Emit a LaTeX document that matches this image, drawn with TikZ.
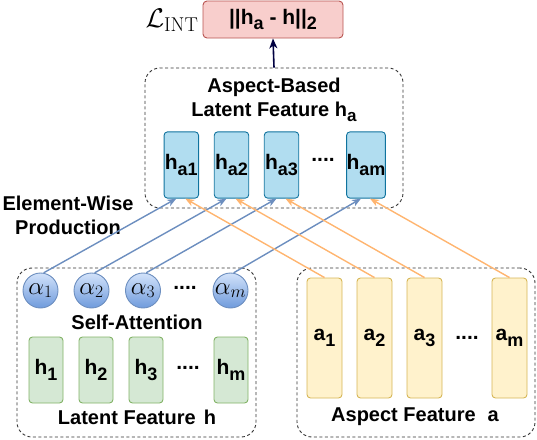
\RequirePackage{fix-cm}
\documentclass[tikz,border=0pt]{standalone}
\usepackage[no-math]{fontspec}
\setmainfont{Liberation Sans}
\usetikzlibrary{arrows.meta}
\newcommand{\subtxt}[2]{#1\raisebox{-5pt}{\fontsize{17}{17}\selectfont #2}}
\newcommand{\boxtxt}[2]{#1\raisebox{-5.5pt}{\fontsize{18}{18}\selectfont #2}}
\definecolor{grpc}{HTML}{333333}
\definecolor{hafill}{HTML}{B1DDF0}
\definecolor{hadraw}{HTML}{10739E}
\definecolor{hfill}{HTML}{D5E8D4}
\definecolor{hdraw}{HTML}{82B366}
\definecolor{afill}{HTML}{FFF2CC}
\definecolor{adraw}{HTML}{D6B656}
\definecolor{lfill}{HTML}{F8CECC}
\definecolor{ldraw}{HTML}{B85450}
\definecolor{ctop}{HTML}{D2E2FA}
\definecolor{cbot}{HTML}{6F9BDC}
\definecolor{cdraw}{HTML}{6C8EBF}
\definecolor{barr}{HTML}{6C8EBF}
\definecolor{oarr}{HTML}{FFB570}
\definecolor{navy}{HTML}{000040}
\begin{document}
\begin{tikzpicture}[x=1pt,y=-1pt,
  font=\bfseries\fontsize{20}{24}\selectfont,
  grp/.style={draw=grpc, line width=0.9pt, dash pattern=on 3pt off 2.5pt, rounded corners=15pt, inner sep=0pt},
  habox/.style={draw=hadraw, fill=hafill, line width=0.9pt, rounded corners=3.5pt, minimum width=34.5pt, minimum height=66.3pt, inner sep=0pt, font=\bfseries\fontsize{21}{21}\selectfont},
  hbox/.style={draw=hdraw, fill=hfill, line width=0.9pt, rounded corners=3.5pt, minimum width=34pt, minimum height=66pt, inner sep=0pt, font=\bfseries\fontsize{21}{21}\selectfont},
  abox/.style={draw=adraw, fill=afill, line width=0.9pt, rounded corners=3.5pt, minimum width=35pt, minimum height=120pt, inner sep=0pt, font=\bfseries\fontsize{21}{21}\selectfont},
  lossbox/.style={draw=ldraw, fill=lfill, line width=0.9pt, rounded corners=4pt, minimum width=140pt, minimum height=37pt, inner sep=0pt, font=\bfseries\fontsize{21}{21}\selectfont},
  alphanode/.style={circle, draw=cdraw, line width=0.9pt, top color=ctop, bottom color=cbot, minimum size=35pt, inner sep=0pt, font=\fontsize{25}{25}\selectfont},
  dots/.style={inner sep=0pt, font=\bfseries\fontsize{21}{21}\selectfont},
  lbl/.style={inner sep=0pt, align=center},
  bluearr/.style={draw=barr, line width=1.4pt, -{Stealth[length=9pt,width=7pt,inset=2.5pt]}},
  orangearr/.style={draw=oarr, line width=1.4pt, -{Stealth[length=9pt,width=7pt,inset=2.5pt]}},
  navyarr/.style={draw=navy, line width=1.6pt, -{Stealth[length=10pt,width=8pt,inset=3pt]}}
]
\useasboundingbox (0,0) rectangle (537,439);

% groups
\node[grp, minimum width=258pt, minimum height=140pt] (gtop) at (274,138) {};
\node[grp, minimum width=239pt, minimum height=169pt] (gleft) at (136.5,352.5) {};
\node[grp, minimum width=238pt, minimum height=169pt] (gright) at (416,352.5) {};

% loss
\node[lossbox] (loss) at (273,19.5) {||\boxtxt{h}{a} - h||\raisebox{-5.5pt}{\fontsize{18}{18}\selectfont 2}};
\node[lbl, anchor=base] (lint) at (172,27) {\fontsize{27}{27}\selectfont$\mathcal{L}_{\mbox{\fontsize{20}{20}\fontfamily{lmr}\mdseries\selectfont INT}}$};

% top group contents
\node[lbl] (ttl) at (274,100) {Aspect-Based\\Latent Feature \subtxt{h}{a}};
\node[habox] (ha1) at (181.3,165) {\boxtxt{h}{a1}};
\node[habox] (ha2) at (231.5,165) {\boxtxt{h}{a2}};
\node[habox] (ha3) at (281.5,165) {\boxtxt{h}{a3}};
\node[dots] (hadots) at (323,160) {....};
\node[habox] (ham) at (366,165) {\boxtxt{h}{am}};

% element-wise
\node[lbl] (ew) at (68,215) {Element-Wise\\Production};

% left group contents
\node[alphanode] (al1) at (40.5,290.5) {$\alpha_1$};
\node[alphanode] (al2) at (91.5,290.5) {$\alpha_2$};
\node[alphanode] (al3) at (143,290.5) {$\alpha_3$};
\node[dots] (aldots) at (185,288) {....};
\node[alphanode] (alm) at (230.5,290.5) {$\alpha_m$};
\node[lbl] (sa) at (137,322) {Self-Attention};
\node[hbox] (h1) at (46,370) {\boxtxt{h}{1}};
\node[hbox] (h2) at (96,370) {\boxtxt{h}{2}};
\node[hbox] (h3) at (146,370) {\boxtxt{h}{3}};
\node[dots] (hdots) at (188,368) {....};
\node[hbox] (hm) at (231,370) {\boxtxt{h}{m}};
\node[lbl] (lf) at (137,417) {Latent Feature\hspace{0.4em}h};

% right group contents
\node[abox] (a1) at (324.5,338) {\boxtxt{a}{1}};
\node[abox] (a2) at (374.5,338) {\boxtxt{a}{2}};
\node[abox] (a3) at (424.5,338) {\boxtxt{a}{3}};
\node[dots] (adots) at (467,338) {....};
\node[abox] (am) at (509.5,338) {\boxtxt{a}{m}};
\node[lbl] (af) at (415,417) {Aspect Feature\hspace{0.6em}a};

% connectors
\draw[bluearr] (al1.80) -- ([xshift=-5pt]ha1.south);
\draw[bluearr] (al2.80) -- ([xshift=-5pt]ha2.south);
\draw[bluearr] (al3.80) -- ([xshift=-5pt]ha3.south);
\draw[bluearr] (alm.80) -- ([xshift=-5pt]ham.south);
\draw[orangearr] (a1.north) -- ([xshift=4pt]ha1.south);
\draw[orangearr] (a2.north) -- ([xshift=4pt]ha2.south);
\draw[orangearr] (a3.north) -- ([xshift=4pt]ha3.south);
\draw[orangearr] (am.north) -- ([xshift=4pt]ham.south);
\draw[navyarr] (gtop.north) -- (loss.south);
\end{tikzpicture}
\end{document}
